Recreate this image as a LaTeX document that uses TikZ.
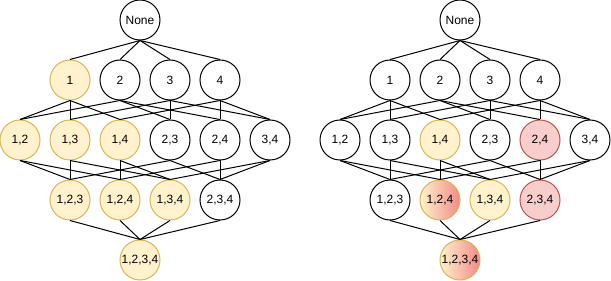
\documentclass[tikz,border=0pt]{standalone}
\usepackage{fontspec}
\setmainfont{Liberation Sans}
\usetikzlibrary{positioning}

\definecolor{keptfill}{HTML}{FFF2CC}
\definecolor{keptline}{HTML}{D6B656}
\definecolor{cutfill}{HTML}{F8CECC}
\definecolor{cutline}{HTML}{B85450}
\definecolor{cutgrad}{HTML}{F28A87}

\begin{document}
\begin{tikzpicture}[x=0.75pt, y=-0.75pt, line width=0.75pt,
    setnode/.style={circle, draw, minimum size=30pt, inner sep=0pt, font=\fontsize{9}{10}\selectfont},
    kept/.style={setnode, fill=keptfill, draw=keptline},
    cut/.style={setnode, fill=cutfill, draw=cutline},
    mixed/.style={setnode, draw=keptline, left color=keptfill, right color=cutgrad}]
        \useasboundingbox (0,0) rectangle (611,281);

        % Left lattice
        \node[setnode] (a0) at (140,20) {None};
        \node[kept] (a1) at (70,80) {1};
        \node[setnode] (a2) at (120,80) {2};
        \node[setnode] (a3) at (170,80) {3};
        \node[setnode] (a4) at (220,80) {4};
        \node[kept] (a12) at (20,140) {1,2};
        \node[kept] (a13) at (70,140) {1,3};
        \node[kept] (a14) at (120,140) {1,4};
        \node[setnode] (a23) at (170,140) {2,3};
        \node[setnode] (a24) at (220,140) {2,4};
        \node[setnode] (a34) at (270,140) {3,4};
        \node[kept] (a123) at (70,200) {1,2,3};
        \node[kept] (a124) at (120,200) {1,2,4};
        \node[kept] (a134) at (170,200) {1,3,4};
        \node[setnode] (a234) at (220,200) {2,3,4};
        \node[kept] (a1234) at (140,260) {1,2,3,4};

        % Right lattice
        \node[setnode] (b0) at (460,20) {None};
        \node[setnode] (b1) at (390,80) {1};
        \node[setnode] (b2) at (440,80) {2};
        \node[setnode] (b3) at (490,80) {3};
        \node[setnode] (b4) at (540,80) {4};
        \node[setnode] (b12) at (340,140) {1,2};
        \node[setnode] (b13) at (390,140) {1,3};
        \node[kept] (b14) at (440,140) {1,4};
        \node[setnode] (b23) at (490,140) {2,3};
        \node[cut] (b24) at (540,140) {2,4};
        \node[setnode] (b34) at (590,140) {3,4};
        \node[setnode] (b123) at (390,200) {1,2,3};
        \node[mixed] (b124) at (440,200) {1,2,4};
        \node[kept] (b134) at (490,200) {1,3,4};
        \node[cut] (b234) at (540,200) {2,3,4};
        \node[mixed] (b1234) at (460,260) {1,2,3,4};

        % Edges
        \foreach \s in {a,b} {
            \foreach \u/\v in {0/1, 0/2, 0/3, 0/4,
                               1/12, 1/13, 1/14, 2/12, 2/23, 2/24,
                               3/13, 3/23, 3/34, 4/14, 4/24, 4/34,
                               12/123, 12/124, 13/123, 13/134, 14/124, 14/134,
                               23/123, 23/234, 24/124, 24/234, 34/134, 34/234,
                               123/1234, 124/1234, 134/1234, 234/1234}
                \draw (\s\u.south) -- (\s\v.north);
        }

    \end{tikzpicture}
\end{document}
